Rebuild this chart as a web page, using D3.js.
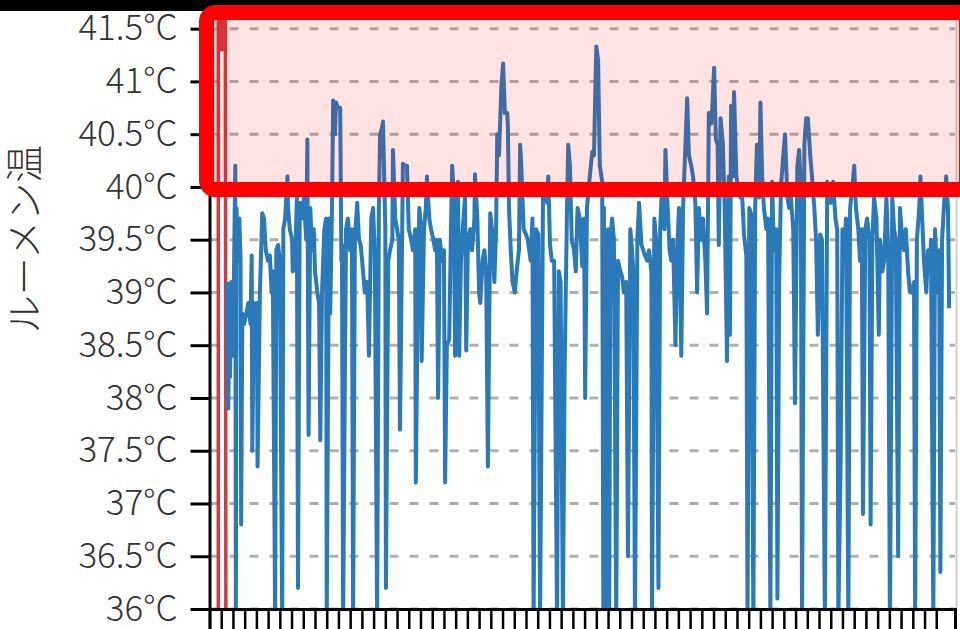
<!DOCTYPE html>
<html>
<head>
<meta charset="utf-8">
<script src="https://cdn.jsdelivr.net/npm/d3@7"></script>
<style>
  html, body { margin: 0; padding: 0; background: #fff; }
  svg { display: block; }
</style>
</head>
<body>
<svg id="chart" width="960" height="629"></svg>
<script>
// y ticks (°C) and daily x ticks
const yTicks = [36, 36.5, 37, 37.5, 38, 38.5, 39, 39.5, 40, 40.5, 41, 41.5];
const dayTicks = d3.range(0, 63);

// first readings, shown in red
const redSeries = [
  [0.75, 35.5], [0.75, 42.0], [0.85, 41.3], [0.95, 42.0], [1.05, 41.3],
  [1.15, 42.0], [1.25, 41.3], [1.35, 42.0], [1.4, 35.5]
];

// rumen temperature readings [day, °C]
const rumenSeries = [
  [1.5,39.1],[1.6,37.9],[1.7,38.9],[1.75,38.2],[1.85,39.1],[2.0,38.4],[2.2,40.2],[2.25,35.9],[2.3,39.8],[2.45,39.3],
  [2.55,39.7],[2.65,39.3],[2.7,36.8],[2.8,38.8],[2.95,38.7],[3.15,38.8],[3.3,38.9],[3.5,38.7],[3.6,39.35],[3.65,37.5],
  [3.8,38.9],[3.95,38.4],[4.05,38.9],[4.1,37.35],[4.3,39.0],[4.5,39.75],[4.65,39.7],[4.8,39.4],[5.0,39.3],[5.15,39.35],
  [5.3,39.0],[5.4,39.2],[5.6,35.9],[5.7,39.4],[5.85,39.45],[6.0,39.3],[6.2,35.9],[6.3,39.6],[6.45,39.7],[6.65,40.1],
  [6.7,39.8],[6.85,39.6],[7.05,39.5],[7.1,39.2],[7.3,39.25],[7.45,39.9],[7.55,36.2],[7.7,39.85],[7.9,39.7],[8.05,39.9],
  [8.25,39.5],[8.35,40.45],[8.45,37.65],[8.6,39.8],[8.75,39.4],[8.9,39.6],[9.0,39.2],[9.2,39.0],[9.35,38.9],[9.45,37.6],
  [9.6,39.0],[9.8,39.6],[9.95,39.7],[10.0,35.9],[10.2,39.7],[10.3,38.8],[10.45,39.8],[10.55,40.82],[10.7,40.5],[10.8,40.8],
  [10.95,40.75],[11.15,40.75],[11.25,39.3],[11.3,39.45],[11.4,35.9],[11.55,38.2],[11.65,39.6],[11.8,39.7],[12.0,39.4],[12.15,39.6],
  [12.25,35.9],[12.4,39.5],[12.6,39.85],[12.75,39.5],[12.9,39.45],[13.1,39.2],[13.25,39.0],[13.45,39.1],[13.6,38.4],[13.8,39.7],
  [13.95,39.8],[14.1,39.4],[14.3,35.9],[14.45,39.8],[14.55,40.5],[14.7,40.55],[14.8,40.62],[15.0,39.6],[15.05,36.2],[15.25,39.3],
  [15.4,39.4],[15.6,39.5],[15.65,40.35],[15.85,39.7],[16.0,39.6],[16.15,39.5],[16.25,37.7],[16.45,39.7],[16.5,40.22],[16.7,40.2],
  [16.85,40.2],[17.0,39.6],[17.2,39.5],[17.35,39.4],[17.55,39.6],[17.6,37.2],[17.8,39.3],[17.9,39.8],[18.05,39.6],[18.1,38.35],
  [18.3,39.6],[18.45,39.8],[18.55,40.1],[18.75,39.7],[18.9,39.6],[19.1,39.5],[19.25,39.4],[19.4,39.5],[19.5,38.0],[19.65,39.5],
  [19.85,39.3],[20.0,39.4],[20.1,37.2],[20.25,38.5],[20.45,38.55],[20.6,39.6],[20.7,40.2],[20.85,39.9],[20.95,38.4],[21.1,39.4],
  [21.2,40.05],[21.3,38.4],[21.45,39.3],[21.6,39.6],[21.8,39.9],[21.9,38.45],[22.05,39.5],[22.25,39.6],[22.4,39.4],[22.6,39.7],
  [22.65,40.12],[22.85,39.7],[23.0,39.0],[23.1,38.9],[23.3,39.3],[23.45,39.4],[23.6,39.2],[23.75,37.35],[23.95,39.75],[24.1,39.6],
  [24.3,39.1],[24.45,39.6],[24.55,40.5],[24.7,40.3],[24.9,40.95],[25.05,41.17],[25.2,40.7],[25.4,40.7],[25.45,40.6],[25.55,39.8],
  [25.7,39.4],[25.85,39.1],[26.05,39.0],[26.2,39.2],[26.4,39.4],[26.5,40.4],[26.6,40.2],[26.8,39.6],[27.0,39.55],[27.15,39.5],
  [27.4,39.3],[27.55,39.7],[27.65,35.9],[27.85,39.6],[28.05,39.55],[28.2,35.9],[28.3,37.45],[28.45,39.9],[28.6,40.0],[28.8,39.85],
  [28.9,40.1],[29.05,39.45],[29.2,39.3],[29.4,39.3],[29.65,35.9],[29.8,39.2],[29.95,39.1],[30.15,35.9],[30.3,38.3],[30.5,39.8],
  [30.6,40.4],[30.75,40.2],[30.9,39.5],[31.1,39.4],[31.25,39.2],[31.4,39.8],[31.6,39.7],[31.8,39.25],[31.95,39.7],[32.05,38.0],
  [32.2,39.8],[32.4,40.05],[32.65,40.33],[32.8,40.3],[33.0,41.33],[33.15,41.2],[33.3,40.2],[33.5,40.05],[33.6,35.9],[33.65,39.8],
  [33.75,35.9],[33.85,37.5],[33.95,35.9],[34.0,39.6],[34.1,35.9],[34.2,39.5],[34.35,39.7],[34.5,39.5],[34.7,35.9],[34.85,39.3],
  [35.05,39.2],[35.2,39.15],[35.35,39.0],[35.55,39.1],[35.7,36.5],[35.9,39.6],[36.05,39.4],[36.15,39.2],[36.3,35.9],[36.5,39.5],
  [36.65,39.85],[36.85,39.45],[37.0,39.4],[37.15,39.35],[37.35,39.3],[37.5,39.4],[37.7,39.2],[37.75,35.9],[37.95,39.7],[38.1,39.5],
  [38.3,36.2],[38.45,39.6],[38.6,40.0],[38.8,39.6],[38.9,40.35],[39.05,39.9],[39.25,39.4],[39.4,39.3],[39.55,39.5],[39.75,38.5],
  [39.9,39.4],[40.05,39.8],[40.25,38.4],[40.4,39.8],[40.6,40.4],[40.75,40.84],[40.9,40.3],[41.1,40.2],[41.25,40.1],[41.45,39.85],
  [41.6,39.0],[41.75,39.8],[41.95,39.5],[42.1,39.7],[42.3,39.3],[42.45,38.8],[42.6,40.7],[42.8,40.6],[42.85,40.65],[43.05,41.13],
  [43.2,40.45],[43.35,40.4],[43.45,39.45],[43.6,40.65],[43.8,40.4],[43.95,39.8],[44.15,38.35],[44.3,40.1],[44.4,38.6],[44.5,40.77],
  [44.65,40.1],[44.75,40.9],[44.95,40.1],[45.1,40.0],[45.3,39.9],[45.45,39.9],[45.6,39.55],[45.8,39.35],[45.9,35.9],[46.05,39.8],
  [46.2,39.75],[46.4,35.9],[46.55,39.8],[46.7,40.4],[46.9,39.9],[47.0,40.8],[47.15,40.1],[47.3,39.8],[47.5,39.6],[47.65,39.7],
  [47.85,35.9],[48.0,40.05],[48.15,39.4],[48.35,39.6],[48.45,36.1],[48.6,39.1],[48.75,40.0],[48.95,40.3],[49.1,40.5],[49.3,39.9],
  [49.45,39.8],[49.6,39.9],[49.8,39.6],[49.95,37.95],[50.15,40.2],[50.3,40.35],[50.45,40.0],[50.55,35.9],[50.75,40.4],[50.9,40.65],
  [51.05,40.65],[51.25,40.3],[51.4,40.1],[51.6,39.8],[51.75,39.5],[51.9,38.6],[52.1,39.55],[52.25,39.5],[52.5,35.9],[52.7,40.05],
  [52.85,39.9],[53.0,39.85],[53.2,40.05],[53.4,39.7],[53.55,39.6],[53.65,35.9],[53.85,37.45],[54.0,39.6],[54.2,39.5],[54.3,39.7],
  [54.5,35.9],[54.65,39.8],[54.85,40.0],[55.0,40.2],[55.15,39.8],[55.35,39.6],[55.5,39.3],[55.65,39.6],[55.75,36.9],[55.95,39.6],
  [56.1,39.7],[56.3,39.5],[56.4,36.8],[56.55,39.5],[56.7,39.9],[56.9,39.7],[57.1,38.6],[57.2,39.5],[57.4,39.2],[57.55,39.3],
  [57.75,39.9],[57.9,39.4],[58.05,35.8],[58.25,39.9],[58.4,39.6],[58.55,39.5],[58.75,36.5],[58.9,39.8],[59.1,39.5],[59.25,39.4],
  [59.4,39.6],[59.6,39.2],[59.75,39.0],[59.95,39.0],[60.1,39.1],[60.2,35.9],[60.35,39.5],[60.55,39.8],[60.65,40.1],[60.8,39.7],
  [60.95,39.3],[61.15,39.0],[61.3,39.4],[61.5,39.3],[61.55,39.5],[61.75,35.9],[61.9,39.6],[62.1,39.0],[62.25,39.4],[62.35,36.35],
  [62.5,39.5],[62.7,39.9],[62.85,40.1],[63.0,39.8],[63.1,38.85]
];

const svg = d3.select("#chart");
const width = +svg.attr("width");
const height = +svg.attr("height");
const margin = { top: -3, right: 5, bottom: 20, left: 209.5 };
const plotRight = width - margin.right;
const plotBottom = height - margin.bottom;

const x = d3.scaleLinear().domain([0, 63.6]).range([margin.left, plotRight]);
const y = d3.scaleLinear().domain([36, 41.8]).range([plotBottom, margin.top]);

svg.append("rect").attr("width", width).attr("height", height).attr("fill", "#fff");

// dashed grid
svg.append("g").selectAll("line").data(yTicks).join("line")
    .attr("x1", margin.left).attr("x2", plotRight)
    .attr("y1", d => y(d)).attr("y2", d => y(d))
    .attr("stroke", "#b0b0b0")
    .attr("stroke-width", 3)
    .attr("stroke-dasharray", "9,11");

svg.append("clipPath").attr("id", "plotclip")
  .append("rect")
    .attr("x", margin.left).attr("y", -20)
    .attr("width", plotRight - margin.left).attr("height", plotBottom + 20);

const line = d3.line().x(d => x(d[0])).y(d => y(d[1]));

const series = svg.append("g").attr("clip-path", "url(#plotclip)");
series.append("path")
    .datum(redSeries)
    .attr("d", line)
    .attr("fill", "none")
    .attr("stroke", "#d23a3f")
    .attr("stroke-width", 3.5)
    .attr("stroke-linejoin", "round");

series.append("path")
    .datum(rumenSeries)
    .attr("d", line)
    .attr("fill", "none")
    .attr("stroke", "#2a79b9")
    .attr("stroke-width", 4)
    .attr("stroke-linejoin", "round");

// light border on the right
svg.append("line")
    .attr("x1", plotRight + 1.5).attr("x2", plotRight + 1.5)
    .attr("y1", 0).attr("y2", plotBottom)
    .attr("stroke", "#d0d0d0")
    .attr("stroke-width", 2);

// axes
const xAxis = svg.append("g")
    .attr("transform", "translate(0," + plotBottom + ")")
    .call(d3.axisBottom(x).tickValues(dayTicks).tickSize(22).tickSizeOuter(22).tickFormat(""));
xAxis.select(".domain").attr("stroke", "#000").attr("stroke-width", 3);
xAxis.selectAll(".tick line").attr("stroke", "#000").attr("stroke-width", 2.5);

const yAxis = svg.append("g")
    .attr("transform", "translate(" + margin.left + ",0)")
    .call(d3.axisLeft(y).tickValues(yTicks).tickSize(19).tickSizeOuter(0).tickPadding(13)
        .tickFormat(d => d3.format("~g")(d) + "°C"));
yAxis.select(".domain").attr("stroke", "#000").attr("stroke-width", 3);
yAxis.selectAll(".tick line").attr("stroke", "#000").attr("stroke-width", 3);
yAxis.selectAll(".tick text")
    .attr("fill", "#333")
    .style("font-family", "'Noto Sans CJK JP', 'Noto Sans', sans-serif")
    .style("font-weight", "300")
    .style("font-size", "35px");

svg.append("text")
    .attr("transform", "translate(38,239) rotate(-90)")
    .attr("text-anchor", "middle")
    .attr("fill", "#333")
    .style("font-family", "'Noto Sans CJK JP', sans-serif")
    .style("font-weight", "300")
    .style("font-size", "38px")
    .text("ルーメン温");

// top black strip of the screenshot
svg.append("rect").attr("x", 0).attr("y", 0).attr("width", width).attr("height", 11).attr("fill", "#000");

// highlight box over the 40°C+ band
svg.append("rect")
    .attr("x", 206.5).attr("y", 12.5)
    .attr("width", 760).attr("height", 177)
    .attr("rx", 9)
    .attr("fill", "rgba(255,0,0,0.11)")
    .attr("stroke", "#ff0000")
    .attr("stroke-width", 15);
</script>
</body>
</html>
